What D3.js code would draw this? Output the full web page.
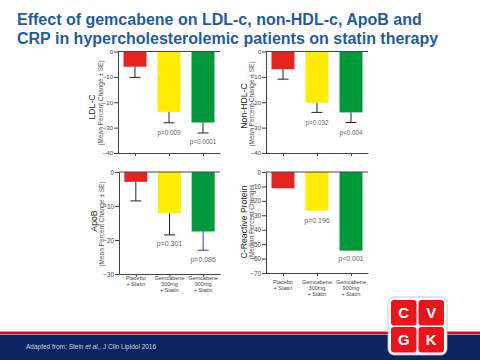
<!DOCTYPE html>
<html>
<head>
<meta charset="utf-8">
<script src="https://cdn.jsdelivr.net/npm/d3@7"></script>
<style>
  body { margin: 0; background: #fff; }
  svg { display: block; font-family: "Liberation Sans", Arial, sans-serif; }
</style>
</head>
<body>
<svg id="chart" width="480" height="360"></svg>
<script>
// Data
const categories = ["Placebo + Statin", "Gemcabene 300mg + Statin", "Gemcabene 900mg + Statin"];
const categoryLines = [["Placebo", "+ Statin"], ["Gemcabene", "300mg", "+ Statin"], ["Gemcabene", "900mg", "+ Statin"]];
const barColors = ["#e52421", "#ffec00", "#009a3d"];

const ldlMean = [-6.0, -23.8, -28.0];
const ldlSE = [4.2, 4.3, 4.1];
const ldlP = ["", "p=0.009", "p<0.0001"];
const ldlTicks = [0, -10, -20, -30, -40];

const nonHdlMean = [-7.0, -20.2, -24.0];
const nonHdlSE = [3.9, 3.8, 4.0];
const nonHdlP = ["", "p=0.032", "p<0.004"];
const nonHdlTicks = [0, -10, -20, -30, -40];

const apoBMean = [-2.9, -12.1, -17.5];
const apoBSE = [5.6, 6.4, 5.5];
const apoBP = ["", "p=0.301", "p=0.086"];
const apoBTicks = [0, -10, -20, -30];

const crpMedian = [-11.3, -26.8, -54.5];
const crpP = ["", "p=0.196", "p<0.001"];
const crpTicks = [0, -10, -20, -30, -40, -50, -60, -70];

const svg = d3.select("#chart");

// title
const title = svg.append("text")
    .attr("x", 17)
    .attr("fill", "#1f5c9e")
    .attr("font-weight", "bold")
    .attr("font-size", 16);
title.append("tspan").attr("x", 17).attr("y", 24.5).text("Effect of gemcabene on LDL-c, non-HDL-c, ApoB and");
title.append("tspan").attr("x", 17).attr("y", 43.5).text("CRP in hypercholesterolemic patients on statin therapy");

const panels = [
    { mean: ldlMean, se: ldlSE, p: ldlP, ticks: ldlTicks, title: "LDL-C", sub: "(Mean Percent Change \u00b1 SE)",
      x0: 118, x1: 220, yTop: 51.5, yBot: 153, titleX: 95, subX: 102.5, titleY: 107, subY: 103,
      tickFont: 6, pFont: 6.3, pY: [0, 134.5, 143.5], errColor: ["#222", "#222", "#222"], labels: false },
    { mean: nonHdlMean, se: nonHdlSE, p: nonHdlP, ticks: nonHdlTicks, title: "Non-HDL-C", sub: "(Mean Percent Change \u00b1 SE)",
      x0: 266, x1: 368, yTop: 51.5, yBot: 153, titleX: 247, subX: 253.5, titleY: 106, subY: 104,
      tickFont: 6, pFont: 6.3, pY: [0, 124.5, 134.5], errColor: ["#222", "#222", "#222"], labels: false },
    { mean: apoBMean, se: apoBSE, p: apoBP, ticks: apoBTicks, title: "ApoB", sub: "(Mean Percent Change \u00b1 SE)",
      x0: 119, x1: 220, yTop: 172, yBot: 274, titleX: 97, subX: 104, titleY: 221, subY: 224,
      tickFont: 6.3, pFont: 7, pY: [0, 245.5, 262], errColor: ["#222", "#222", "#3b3b8f"], labels: true, labY: 280 },
    { mean: crpMedian, se: null, p: crpP, ticks: crpTicks, title: "C-Reactive Protein", sub: "(Median Percent Change)",
      x0: 266, x1: 368, yTop: 172, yBot: 273, titleX: 247, subX: 254, titleY: 222, subY: 222,
      tickFont: 6.3, pFont: 7, pY: [0, 222.5, 260.5], errColor: null, labels: true, labY: 283.5 }
];

panels.forEach(pn => {
    const g = svg.append("g");
    const lo = d3.min(pn.ticks);

    const x = d3.scalePoint().domain(categories).range([pn.x0, pn.x1]).padding(0.5);
    const y = d3.scaleLinear().domain([lo, 0]).range([pn.yBot, pn.yTop]);
    const bw = 23;

    // bars
    g.selectAll(".bar")
        .data(pn.mean)
      .enter().append("rect")
        .attr("x", (d, i) => x(categories[i]) - bw / 2)
        .attr("y", y(0))
        .attr("width", bw)
        .attr("height", d => y(d) - y(0))
        .attr("fill", (d, i) => barColors[i]);

    // error bars (downward only)
    if (pn.se) {
        const eb = g.selectAll(".err")
            .data(pn.mean.map((m, i) => ({ m: m, e: m - pn.se[i], i: i })))
          .enter().append("g")
            .attr("stroke", d => pn.errColor[d.i])
            .attr("stroke-width", 1);
        eb.append("line")
            .attr("x1", d => x(categories[d.i])).attr("x2", d => x(categories[d.i]))
            .attr("y1", d => y(d.m)).attr("y2", d => y(d.e));
        eb.append("line")
            .attr("x1", d => x(categories[d.i]) - 5.5).attr("x2", d => x(categories[d.i]) + 5.5)
            .attr("y1", d => y(d.e)).attr("y2", d => y(d.e));
    }

    // zero line
    g.append("line")
        .attr("x1", pn.x0).attr("x2", pn.x1)
        .attr("y1", y(0)).attr("y2", y(0))
        .attr("stroke", "#444").attr("stroke-width", 1);

    // y axis
    const ya = g.append("g")
        .attr("transform", `translate(${pn.x0},0)`)
        .call(d3.axisLeft(y).tickValues(pn.ticks).tickSize(4).tickSizeOuter(0).tickPadding(1));
    ya.select(".domain").attr("stroke", "#444");
    ya.selectAll(".tick line").attr("stroke", "#444");
    ya.selectAll(".tick text").attr("font-size", pn.tickFont).attr("fill", "#444")
        .attr("font-family", "'Liberation Sans', Arial, sans-serif");

    // x axis at bottom
    const xa = g.append("g")
        .attr("transform", `translate(0,${y(lo)})`)
        .call(d3.axisBottom(x).tickSize(3).tickSizeOuter(0).tickFormat(""));
    xa.select(".domain").attr("stroke", "#444");
    xa.selectAll(".tick line").attr("stroke", "#444");

    // p values
    g.selectAll(".pval")
        .data(pn.p)
      .enter().append("text")
        .attr("x", (d, i) => x(categories[i]))
        .attr("y", (d, i) => pn.pY[i])
        .attr("text-anchor", "middle")
        .attr("font-size", pn.pFont)
        .attr("fill", "#666")
        .text(d => d);

    // category labels
    if (pn.labels) {
        categoryLines.forEach((lines, i) => {
            const t = g.append("text")
                .attr("text-anchor", "middle")
                .attr("font-size", 5.5)
                .attr("fill", "#444");
            lines.forEach((s, k) => {
                t.append("tspan")
                    .attr("x", x(categories[i]))
                    .attr("y", pn.labY + k * 6.2)
                    .text(s);
            });
        });
    }

    // y titles
    g.append("text")
        .attr("transform", `translate(${pn.titleX},${pn.titleY}) rotate(-90)`)
        .attr("text-anchor", "middle")
        .attr("font-size", 8.7)
        .attr("fill", "#222")
        .text(pn.title);
    g.append("text")
        .attr("transform", `translate(${pn.subX},${pn.subY}) rotate(-90)`)
        .attr("text-anchor", "middle")
        .attr("font-size", 6.5)
        .attr("fill", "#555")
        .text(pn.sub);
});

// footer band
svg.append("rect").attr("x", 0).attr("y", 331.5).attr("width", 480).attr("height", 2.5).attr("fill", "#e30613");
svg.append("rect").attr("x", 0).attr("y", 334.5).attr("width", 480).attr("height", 25.5).attr("fill", "#0c2461");
svg.append("text")
    .attr("x", 26).attr("y", 349)
    .attr("font-size", 6.5)
    .attr("fill", "#cfd3e0")
    .call(t => {
        t.append("tspan").text("Adapted from: Stein ");
        t.append("tspan").attr("font-style", "italic").text("et al.");
        t.append("tspan").text(", J Clin Lipidol 2016");
    });

// logo
const logoLetters = ["C", "V", "G", "K"];
const logo = svg.append("g");
logo.append("rect")
    .attr("x", 388).attr("y", 297).attr("width", 59).attr("height", 58).attr("rx", 6)
    .attr("fill", "#fff").attr("stroke", "#bbb").attr("stroke-width", 0.8);
logoLetters.forEach((l, i) => {
    const cx = 391 + (i % 2) * 27.5, cy = 300 + Math.floor(i / 2) * 27;
    logo.append("rect")
        .attr("x", cx).attr("y", cy).attr("width", 25.5).attr("height", 25.5).attr("rx", 3)
        .attr("fill", "#e8151b");
    logo.append("text")
        .attr("x", cx + 12.75).attr("y", cy + 18)
        .attr("text-anchor", "middle")
        .attr("font-size", 15).attr("font-weight", "bold")
        .attr("fill", "#fff")
        .text(l);
});
</script>
</body>
</html>
